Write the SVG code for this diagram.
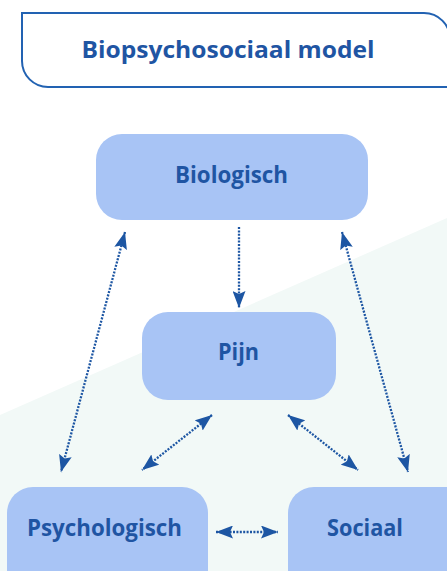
<svg xmlns="http://www.w3.org/2000/svg" width="447" height="571" viewBox="0 0 447 571">
  <defs>
    <style>
      .box { fill: #a8c4f5; }
      .lbl { font-family: "Open Sans", "Liberation Sans", sans-serif; font-weight: bold; fill: #1f55a3; font-size: 24px; text-anchor: middle; }
      .con { stroke: #1d56a3; stroke-width: 2.3; stroke-dasharray: 2 1.4; fill: none; }
    </style>
    <marker id="ah" viewBox="0 0 17 13" refX="17" refY="6.5" markerWidth="17" markerHeight="13" markerUnits="userSpaceOnUse" orient="auto-start-reverse">
      <path d="M0,0 L17,6.5 L0,13 L3,6.5 z" fill="#1d56a3"/>
    </marker>
  </defs>
  <rect x="0" y="0" width="447" height="571" fill="#ffffff"/>
  <polygon points="0,415 447,218 447,571 0,571" fill="#f2f9f7"/>

  <g id="title">
    <path d="M22,13 H424 A26,26 0 0 1 450,39 V87 H48 A26,26 0 0 1 22,61 Z" fill="#ffffff" stroke="#2262b2" stroke-width="2"/>
    <text x="228" y="58" class="lbl" font-size="25" textLength="293" lengthAdjust="spacingAndGlyphs">Biopsychosociaal model</text>
  </g>

  <g id="biologisch">
    <rect class="box" x="96" y="134" width="272" height="86" rx="26"/>
    <text class="lbl" x="231.5" y="183" textLength="113" lengthAdjust="spacingAndGlyphs">Biologisch</text>
  </g>
  <g id="pijn">
    <rect class="box" x="142" y="312" width="194" height="88" rx="26"/>
    <text class="lbl" x="238.5" y="360" textLength="41" lengthAdjust="spacingAndGlyphs">Pijn</text>
  </g>
  <g id="psychologisch">
    <rect class="box" x="7" y="487" width="201" height="110" rx="26"/>
    <text class="lbl" x="104.5" y="536" textLength="155" lengthAdjust="spacingAndGlyphs">Psychologisch</text>
  </g>
  <g id="sociaal">
    <rect class="box" x="288" y="487" width="190" height="110" rx="26"/>
    <text class="lbl" x="365" y="536" textLength="76" lengthAdjust="spacingAndGlyphs">Sociaal</text>
  </g>

  <g id="connectors">
    <line class="con" x1="239" y1="227" x2="239" y2="308" marker-end="url(#ah)"/>
    <line class="con" x1="125" y1="232" x2="61" y2="472" marker-start="url(#ah)" marker-end="url(#ah)"/>
    <line class="con" x1="342" y1="232" x2="408" y2="472" marker-start="url(#ah)" marker-end="url(#ah)"/>
    <line class="con" x1="212" y1="415" x2="142" y2="470" marker-start="url(#ah)" marker-end="url(#ah)"/>
    <line class="con" x1="288" y1="415" x2="358" y2="470" marker-start="url(#ah)" marker-end="url(#ah)"/>
    <line class="con" x1="216" y1="532" x2="278" y2="532" marker-start="url(#ah)" marker-end="url(#ah)"/>
  </g>
</svg>
